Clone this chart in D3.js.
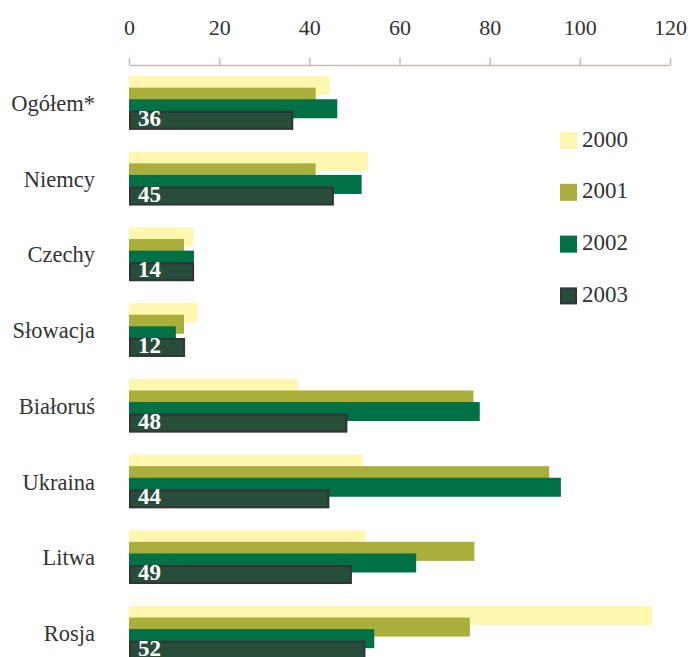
<!DOCTYPE html>
<html>
<head>
<meta charset="utf-8">
<script src="https://cdn.jsdelivr.net/npm/d3@7"></script>
<style>
  html, body { margin: 0; padding: 0; background: #fff; }
  svg { display: block; }
  svg text { font-family: "Liberation Serif", serif; }
</style>
</head>
<body>
<svg id="chart" width="695" height="657"></svg>
<script>
const categories = ["Ogółem*", "Niemcy", "Czechy", "Słowacja", "Białoruś", "Ukraina", "Litwa", "Rosja"];
const years = ["2000", "2001", "2002", "2003"];
const values2000 = [44.5, 53, 14.3, 15.2, 37.5, 51.8, 52.5, 116];
const values2001 = [41.4, 41.4, 12.2, 12.2, 76.4, 93.2, 76.6, 75.6];
const values2002 = [46.2, 51.6, 14.4, 10.4, 77.8, 95.8, 63.7, 54.4];
const values2003 = [36, 45, 14, 12, 48, 44, 49, 52];
const tickValues = [0, 20, 40, 60, 80, 100, 120];

const seriesValues = [values2000, values2001, values2002, values2003];
const colors = ["#fff6b0", "#a9af3a", "#007046", "#264e3b"];
const FONT = "Liberation Serif, serif";

const svg = d3.select("#chart");

const x = d3.scaleLinear().domain([0, 120]).range([129, 670]);
const y = d3.scaleBand().domain(categories).range([65.2, 65.2 + 8 * 75.7])
  .paddingInner(0.2867).paddingOuter(0.14335);
const offset = d3.scalePoint().domain(years).range([0, 34.8]);
const barH = 19;

// axis
const axis = d3.axisTop(x).tickValues(tickValues).tickSize(7).tickSizeOuter(0).tickPadding(23)
  .tickFormat(d3.format("d"));
const ag = svg.append("g").attr("transform", "translate(0,65)").call(axis)
  .attr("font-family", FONT);
ag.select(".domain").attr("stroke", "#c6baba").attr("stroke-width", 1.5);
ag.selectAll(".tick line").attr("stroke", "#c6baba").attr("stroke-width", 1.5);
ag.selectAll(".tick text").attr("fill", "#333").attr("font-size", 22)
  .attr("font-family", FONT);

// bars
years.forEach((yr, si) => {
  const g = svg.append("g");
  const rows = categories.map((c, i) => ({ c, v: seriesValues[si][i] }));
  const isLast = si === years.length - 1;
  g.selectAll("rect").data(rows).join("rect")
    .attr("x", d => x(0) + (isLast ? 1 : 0))
    .attr("y", d => y(d.c) + offset(yr) + (isLast ? 1 : 0))
    .attr("width", d => x(d.v) - x(0))
    .attr("height", barH - (isLast ? 2 : 0))
    .attr("fill", colors[si])
    .attr("stroke", isLast ? "#333" : "none")
    .attr("stroke-width", isLast ? 2 : 0);
  if (isLast) {
    g.selectAll("text").data(rows).join("text")
      .attr("x", x(0) + 9)
      .attr("y", d => y(d.c) + offset(yr) + barH - 4)
      .attr("fill", "#fff")
      .attr("font-family", FONT)
      .attr("font-weight", "bold")
      .attr("font-size", 23)
      .text(d => d.v);
  }
});

// category labels
svg.append("g").selectAll("text").data(categories).join("text")
  .attr("x", 95)
  .attr("y", d => y(d) + y.bandwidth() / 2 + 8)
  .attr("text-anchor", "end")
  .attr("fill", "#333")
  .attr("font-family", FONT)
  .attr("font-size", 22.5)
  .text(d => d);

// legend
const lg = svg.append("g");
years.forEach((yr, i) => {
  const cy = 140.5 + i * 51.8;
  const last = i === years.length - 1;
  lg.append("rect")
    .attr("x", 560 + (last ? 1 : 0)).attr("y", cy - 8.5 + (last ? 1 : 0))
    .attr("width", 17 - (last ? 2 : 0)).attr("height", 17 - (last ? 2 : 0))
    .attr("fill", colors[i])
    .attr("stroke", last ? "#333" : "none").attr("stroke-width", last ? 2 : 0);
  lg.append("text")
    .attr("x", 582).attr("y", cy + 6)
    .attr("fill", "#333").attr("font-family", FONT).attr("font-size", 23)
    .text(yr);
});
</script>
</body>
</html>
